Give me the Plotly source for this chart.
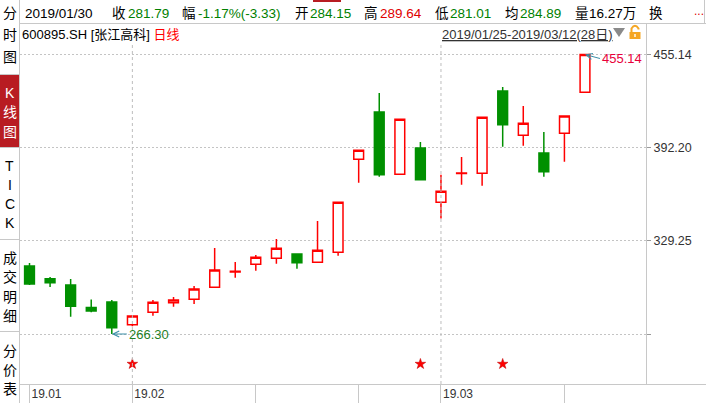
import plotly.graph_objects as go

# ---------------- data ----------------
dates = ["2019-01-25", "2019-01-28", "2019-01-29", "2019-01-30", "2019-01-31", "2019-02-01",
         "2019-02-11", "2019-02-12", "2019-02-13", "2019-02-14", "2019-02-15",
         "2019-02-18", "2019-02-19", "2019-02-20", "2019-02-21", "2019-02-22",
         "2019-02-25", "2019-02-26", "2019-02-27", "2019-02-28", "2019-03-01",
         "2019-03-04", "2019-03-05", "2019-03-06", "2019-03-07", "2019-03-08",
         "2019-03-11", "2019-03-12"]
opens = [312.25, 303.67, 299.41, 284.15, 287.93, 272.59, 280.97, 287.46, 289.75, 297.86,
         308.20, 313.40, 317.45, 320.36, 314.75, 321.51, 384.34, 416.29, 374.20, 391.97,
         355.29, 374.80, 374.88, 430.48, 400.55, 388.59, 401.90, 429.60]
highs = [314.28, 304.82, 303.47, 289.64, 289.28, 279.15, 289.28, 291.31, 298.74, 324.41,
         314.95, 319.68, 330.49, 320.36, 342.65, 355.29, 390.42, 429.13, 411.36, 396.02,
         373.93, 385.89, 412.71, 433.18, 420.35, 402.78, 413.59, 455.14]
lows = [299.41, 298.06, 278.00, 281.01, 266.30, 271.51, 278.67, 284.75, 286.58, 297.86,
        304.35, 309.08, 313.80, 310.43, 314.75, 319.21, 368.53, 372.58, 374.20, 370.55,
        344.34, 367.18, 366.50, 392.85, 393.53, 372.58, 382.72, 429.60]
closes = [300.09, 300.97, 285.12, 281.79, 270.57, 278.47, 287.73, 289.28, 296.71, 309.55,
          308.70, 318.13, 324.21, 314.48, 322.86, 355.29, 390.42, 373.93, 411.36, 370.55,
          362.79, 375.10, 412.71, 407.71, 408.66, 375.96, 413.59, 455.14]
star_days = ["2019-02-01", "2019-02-28", "2019-03-06"]
month_labels = ["19.01", "19.02", "19.03"]
price_ticks = [266.30, 329.25, 392.20, 455.14]
price_tick_labels = ["", "329.25", "392.20", "455.14"]
header_items = [("2019/01/30", "#000000"), ("收", "#000000"), ("281.79", "#008000"),
                ("幅", "#000000"), ("-1.17%(-3.33)", "#008000"), ("开", "#000000"),
                ("284.15", "#008000"), ("高", "#000000"), ("289.64", "#e00000"),
                ("低", "#000000"), ("281.01", "#008000"), ("均", "#000000"),
                ("284.89", "#008000"), ("量", "#000000"), ("16.27万", "#000000"),
                ("换", "#000000")]
header_x = [23, 110, 126, 180, 196, 293, 308, 362, 378, 433, 448, 503, 518, 573, 587, 647]
sidebar_groups = [("分时图", 13, 22), ("K线图", 93, 19.5), ("TICK", 166, 19),
                  ("成交明细", 258, 19.3), ("分价表", 351, 19)]

# ---------------- geometry helpers ----------------
W, H = 706, 403
L, R, T, B = 20, 60, 45, 19
PW, PH = W - L - R, H - T - B
FONT = "Liberation Sans, Arial, Noto Sans CJK SC, sans-serif"


def px(x):
    return (x - L) / PW


def py(y):
    return (H - B - y) / PH


idx = list(range(len(dates)))
hi, lo = max(highs), min(lows)
i_hi, i_lo = highs.index(hi), lows.index(lo)
ppu = 279.5 / (hi - lo)
yr = [lo - 50 / ppu, hi + 9.5 / ppu]
step = 20.57
xr = [-9.5 / step, (len(dates) - 1) + 61 / step]

# month starts and weekly minor ticks
month_idx = [0] + [i for i in range(1, len(dates)) if dates[i][5:7] != dates[i - 1][5:7]]
minor_idx = [11, 16, 26]
tickvals = sorted(month_idx + minor_idx)
ticktext = [month_labels[month_idx.index(t)] if t in month_idx else "" for t in tickvals]

fig = go.Figure()
fig.add_trace(go.Candlestick(
    x=idx, open=opens, high=highs, low=lows, close=closes,
    increasing=dict(line=dict(color="#ff0000", width=1.5), fillcolor="#ffffff"),
    decreasing=dict(line=dict(color="#009000", width=1.5), fillcolor="#009000"),
    whiskerwidth=0, hoverinfo="skip", showlegend=False))

star_x = [dates.index(d) for d in star_days]
fig.add_trace(go.Scatter(
    x=star_x, y=[0.059] * len(star_x), yaxis="y2", mode="markers",
    marker=dict(symbol="star", size=8, color="#ff0000", line=dict(color="#c00000", width=0.5)),
    hoverinfo="skip", showlegend=False))

shapes = []
for m in month_idx[1:]:
    shapes.append(dict(type="line", xref="x", yref="paper", x0=m, x1=m, y0=0, y1=1,
                       line=dict(color="#bdbdbd", width=1, dash="dot")))
line_c = "#c8c8c8"
shapes += [
    dict(type="line", xref="paper", yref="paper", x0=px(19.5), x1=px(19.5), y0=py(0), y1=py(403),
         line=dict(color=line_c, width=1)),
    dict(type="line", xref="paper", yref="paper", x0=px(20), x1=px(706), y0=py(23.5), y1=py(23.5),
         line=dict(color=line_c, width=1)),
    dict(type="line", xref="paper", yref="paper", x0=px(646.5), x1=px(646.5), y0=py(23.5), y1=py(384),
         line=dict(color=line_c, width=1)),
    dict(type="line", xref="paper", yref="paper", x0=px(20), x1=px(706), y0=py(384.5), y1=py(384.5),
         line=dict(color=line_c, width=1)),
    dict(type="line", xref="paper", yref="paper", x0=px(704.5), x1=px(704.5), y0=py(0), y1=py(23.5),
         line=dict(color=line_c, width=1)),
]
shapes.append(dict(type="rect", xref="paper", yref="paper", x0=px(0), x1=px(19), y0=py(75), y1=py(147),
                   fillcolor="#b81c22", line=dict(width=0)))
for sy in [74.5, 147.5, 239.5, 331.5]:
    shapes.append(dict(type="line", xref="paper", yref="paper", x0=px(0), x1=px(19), y0=py(sy), y1=py(sy),
                       line=dict(color=line_c, width=1)))
shapes.append(dict(type="rect", xref="paper", yref="paper", x0=px(313), x1=px(341), y0=py(0), y1=py(2),
                   fillcolor="#b81c22", line=dict(width=0)))
shapes.append(dict(type="path", xref="paper", yref="paper",
                   path="M %f,%f L %f,%f L %f,%f Z" % (px(613), py(28), px(625), py(28), px(619), py(37)),
                   fillcolor="#8a8a8a", line=dict(width=0)))
shapes.append(dict(type="rect", xref="paper", yref="paper", x0=px(629.5), x1=px(640.5), y0=py(32), y1=py(39),
                   fillcolor="#f5a623", line=dict(width=0)))
shapes.append(dict(type="path", xref="paper", yref="paper",
                   path="M %f,%f L %f,%f Q %f,%f %f,%f L %f,%f" % (
                       px(631.5), py(32), px(631.5), py(28.5), px(635), py(23), px(638.5), py(28.5),
                       px(638.5), py(29.5)),
                   line=dict(color="#f5a623", width=2)))
shapes.append(dict(type="rect", xref="paper", yref="paper", x0=px(634.3), x1=px(635.7), y0=py(34), y1=py(37),
                   fillcolor="#ffffff", line=dict(width=0)))

ann = []
for (t, c), x in zip(header_items, header_x):
    ann.append(dict(text=t, x=px(x), y=py(13), xref="paper", yref="paper", xanchor="left",
                    yanchor="middle", showarrow=False, font=dict(size=13.5, color=c, family=FONT)))
ann.append(dict(text="...", x=px(692), y=py(11), xref="paper", yref="paper", xanchor="left",
                yanchor="middle", showarrow=False, font=dict(size=12, color="#e00000", family=FONT)))
ann.append(dict(text="600895.SH [张江高科] <span style='color:#ff0000'>日线</span>",
                x=px(20), y=py(34), xref="paper", yref="paper", xanchor="left", yanchor="middle",
                showarrow=False, font=dict(size=13, color="#000000", family=FONT)))
ann.append(dict(text="<u>%s-%s(%d日)</u>" % (dates[0].replace("-", "/"), dates[-1].replace("-", "/"), len(dates)),
                x=px(440), y=py(34), xref="paper", yref="paper", xanchor="left", yanchor="middle",
                showarrow=False, font=dict(size=13, color="#333333", family=FONT)))
for label, y0, dy in sidebar_groups:
    for k, ch in enumerate(label):
        ann.append(dict(text=ch, x=px(9.5), y=py(y0 + k * dy), xref="paper", yref="paper",
                        xanchor="center", yanchor="middle", showarrow=False,
                        font=dict(size=14, color="#ffffff" if label == "K线图" else "#000000",
                                  family=FONT)))
ann.append(dict(x=i_hi, y=hi, xref="x", yref="y", text="%.2f" % hi, showarrow=True,
                ax=15, ay=4, xanchor="left", yanchor="middle", arrowhead=5, arrowsize=1.2,
                arrowwidth=1, arrowcolor="#3a8fa8", standoff=0,
                font=dict(size=13, color="#e8003a", family=FONT)))
ann.append(dict(x=i_lo, y=lo, xref="x", yref="y", text="%.2f" % lo, showarrow=True,
                ax=15, ay=0, xanchor="left", yanchor="middle", arrowhead=5, arrowsize=1.2,
                arrowwidth=1, arrowcolor="#3a8fa8", standoff=0,
                font=dict(size=13, color="#1f7f1f", family=FONT)))

fig.update_layout(
    width=W, height=H, margin=dict(l=L, r=R, t=T, b=B, autoexpand=False),
    paper_bgcolor="#ffffff", plot_bgcolor="#ffffff",
    font=dict(family=FONT, size=12, color="#333333"),
    shapes=shapes, annotations=ann, boxgap=0.32, showlegend=False,
    xaxis=dict(range=xr, rangeslider=dict(visible=False), showgrid=False, zeroline=False,
               automargin=False,
               tickmode="array", tickvals=tickvals, ticktext=ticktext,
               ticks="outside", ticklen=19, tickcolor=line_c, tickwidth=1,
               ticklabelshift=17, ticklabelstandoff=-20,
               tickfont=dict(size=12, color="#333333", family=FONT), showline=False),
    yaxis=dict(range=yr, side="right", tickmode="array", tickvals=price_ticks,
               ticktext=price_tick_labels, automargin=False,
               showgrid=True, gridcolor="#c4c4c4", griddash="2px,2px", gridwidth=1,
               ticks="outside", ticklen=4, tickcolor="#999999", zeroline=False, showline=False,
               tickfont=dict(size=12.5, color="#333333", family=FONT)),
    yaxis2=dict(range=[0, 1], overlaying="y", visible=False, automargin=False),
)

fig.write_html("out.html", config={"displayModeBar": False},
               post_script="document.body.style.margin='0';document.body.style.padding='0';"
                           "document.body.style.overflow='hidden';")
